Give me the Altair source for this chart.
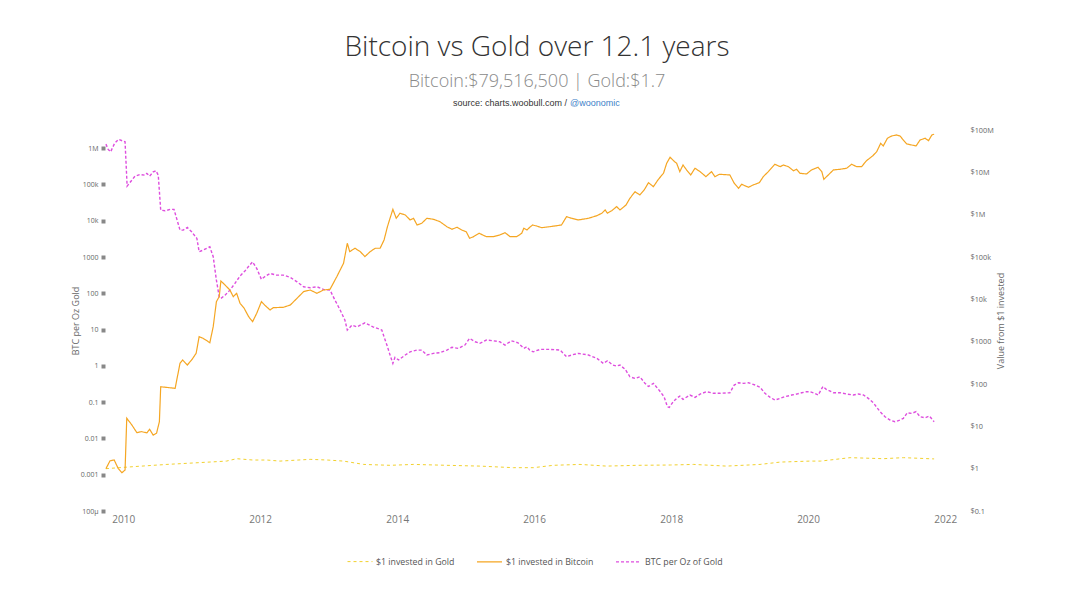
import altair as alt
import pandas as pd

# ---------------- data ----------------
gold_dates = ["2009-10-01", "2010-02-24", "2010-08-22", "2011-02-13", "2011-07-06", "2011-08-29",
              "2011-11-24", "2012-02-06", "2012-04-16", "2012-09-24", "2012-12-24", "2013-03-21",
              "2013-07-06", "2013-11-24", "2014-03-29", "2014-09-23", "2015-03-18", "2015-09-13",
              "2015-12-28", "2016-04-13", "2016-09-02", "2017-01-22", "2017-07-02", "2017-12-28",
              "2018-05-01", "2018-10-23", "2019-04-20", "2019-08-05", "2020-01-11", "2020-03-08",
              "2020-08-12", "2021-02-05", "2021-05-23", "2021-11-03"]
gold_values = [1.0, 1.115, 1.26, 1.39, 1.51, 1.72,
               1.6, 1.6, 1.51, 1.66, 1.6, 1.51,
               1.26, 1.2, 1.26, 1.2, 1.15, 1.055,
               1.055, 1.2, 1.26, 1.15, 1.2, 1.22,
               1.26, 1.15, 1.26, 1.43, 1.51, 1.51,
               1.82, 1.72, 1.82, 1.7]

btc_dates = ["2009-10-01", "2009-10-23", "2009-11-14", "2009-12-05", "2009-12-25", "2010-01-11",
             "2010-01-20", "2010-02-16", "2010-03-15", "2010-04-09", "2010-05-07", "2010-05-22",
             "2010-06-10", "2010-06-28", "2010-07-13", "2010-07-20", "2010-08-12", "2010-10-05",
             "2010-10-31", "2010-11-14", "2010-12-09", "2011-01-01", "2011-01-25", "2011-02-10",
             "2011-03-03", "2011-04-08", "2011-04-26", "2011-05-13", "2011-05-28", "2011-06-06",
             "2011-06-28", "2011-07-24", "2011-08-11", "2011-08-29", "2011-09-16", "2011-10-08",
             "2011-11-01", "2011-11-22", "2011-12-14", "2012-01-08", "2012-01-25", "2012-02-23",
             "2012-03-11", "2012-05-04", "2012-06-10", "2012-07-16", "2012-08-20", "2012-09-24",
             "2012-10-30", "2012-12-04", "2013-01-08", "2013-02-13", "2013-03-21", "2013-04-10",
             "2013-04-23", "2013-05-21", "2013-06-18", "2013-07-13", "2013-08-10", "2013-09-06",
             "2013-10-02", "2013-10-23", "2013-11-10", "2013-11-21", "2013-12-09", "2013-12-27",
             "2014-01-16", "2014-02-13", "2014-03-11", "2014-03-29", "2014-04-17", "2014-05-12",
             "2014-06-08", "2014-07-13", "2014-08-17", "2014-09-23", "2014-10-20", "2014-11-16",
             "2014-12-11", "2015-01-04", "2015-01-22", "2015-02-12", "2015-03-14", "2015-04-22",
             "2015-05-29", "2015-07-02", "2015-07-30", "2015-08-26", "2015-09-30", "2015-10-27",
             "2015-11-07", "2015-11-24", "2015-12-09", "2015-12-24", "2016-01-14", "2016-02-10",
             "2016-03-25", "2016-05-26", "2016-06-22", "2016-07-19", "2016-08-24", "2016-10-17",
             "2016-12-01", "2016-12-27", "2017-01-14", "2017-01-26", "2017-02-18", "2017-03-16",
             "2017-04-03", "2017-05-05", "2017-05-26", "2017-06-22", "2017-07-18", "2017-08-10",
             "2017-09-02", "2017-09-28", "2017-10-25", "2017-11-21", "2017-12-08", "2017-12-26",
             "2018-01-19", "2018-01-30", "2018-02-16", "2018-03-05", "2018-03-24", "2018-04-15",
             "2018-05-08", "2018-06-04", "2018-07-05", "2018-08-04", "2018-08-22", "2018-09-15",
             "2018-11-10", "2018-12-03", "2018-12-26", "2019-01-12", "2019-02-17", "2019-03-14",
             "2019-04-16", "2019-05-07", "2019-06-03", "2019-07-08", "2019-08-05", "2019-08-22",
             "2019-09-18", "2019-10-15", "2019-11-01", "2019-11-18", "2019-12-24", "2020-01-19",
             "2020-02-23", "2020-03-14", "2020-03-25", "2020-04-18", "2020-05-15", "2020-06-19",
             "2020-07-25", "2020-08-20", "2020-09-16", "2020-10-12", "2020-11-08", "2020-12-10",
             "2021-01-01", "2021-01-22", "2021-02-05", "2021-02-27", "2021-03-22", "2021-04-17",
             "2021-05-05", "2021-05-23", "2021-06-10", "2021-07-06", "2021-07-30", "2021-08-20",
             "2021-09-16", "2021-10-04", "2021-10-22", "2021-11-03"]
btc_values = [1.0, 1.54, 1.6, 1.02, 0.80, 0.93,
              15.5, 10.8, 7.1, 7.5, 7.0, 8.5,
              6.2, 6.9, 12.9, 86, 84, 79,
              308, 369, 281, 369, 531, 1312,
              1202, 946, 2260, 8810, 11560, 27200,
              21800, 16600, 11560, 13900, 8070, 6150,
              3890, 2965, 4680, 8810, 7350, 5600,
              6350, 6490, 7350, 10600, 15200, 16600,
              13900, 16600, 17300, 34300, 71100, 211000,
              134000, 161000, 134000, 102000, 134000, 161000,
              161000, 252000, 520000, 750000, 1340000, 822000,
              1080000, 984000, 750000, 822000, 570000, 626000,
              822000, 778000, 683000, 520000, 452000, 504000,
              434000, 396000, 277000, 302000, 363000, 302000,
              302000, 331000, 376000, 302000, 302000, 363000,
              477000, 434000, 504000, 570000, 541000, 493000,
              520000, 570000, 897000, 822000, 750000, 822000,
              947000, 1080000, 1290000, 1080000, 1240000, 1550000,
              1290000, 1690000, 2440000, 3490000, 2920000, 3830000,
              5700000, 4580000, 6860000, 9500000, 16400000, 22700000,
              17900000, 16400000, 10400000, 14900000, 11400000, 8670000,
              12500000, 10400000, 7900000, 10400000, 7900000, 9000000,
              8670000, 5520000, 4200000, 5220000, 4440000, 5030000,
              5700000, 7900000, 10400000, 15500000, 13600000, 14900000,
              13600000, 10900000, 11800000, 9500000, 9150000, 11400000,
              13200000, 10400000, 6860000, 8670000, 11400000, 11800000,
              12500000, 15500000, 13600000, 13600000, 18900000, 24400000,
              30800000, 48500000, 42000000, 63800000, 72300000, 76300000,
              72300000, 58000000, 46800000, 44300000, 42000000, 58000000,
              63800000, 56000000, 76300000, 79516500]

ratio_dates = ["2009-10-01", "2009-10-13", "2009-10-26", "2009-11-16", "2009-12-07", "2010-01-11",
               "2010-01-22", "2010-02-16", "2010-03-05", "2010-04-01", "2010-04-27", "2010-05-07",
               "2010-05-22", "2010-06-10", "2010-06-25", "2010-07-07", "2010-07-20", "2010-08-12",
               "2010-09-09", "2010-09-29", "2010-10-31", "2010-11-17", "2010-12-09", "2011-01-01",
               "2011-01-29", "2011-02-10", "2011-03-03", "2011-04-08", "2011-04-26", "2011-05-13",
               "2011-05-28", "2011-06-06", "2011-06-28", "2011-07-24", "2011-08-20", "2011-09-16",
               "2011-10-12", "2011-10-30", "2011-11-22", "2011-12-14", "2012-01-08", "2012-01-25",
               "2012-02-23", "2012-03-28", "2012-05-04", "2012-06-10", "2012-07-16", "2012-08-20",
               "2012-09-24", "2012-10-30", "2012-12-04", "2013-01-08", "2013-02-03", "2013-03-03",
               "2013-03-28", "2013-04-10", "2013-05-05", "2013-05-31", "2013-07-13", "2013-08-25",
               "2013-10-11", "2013-10-23", "2013-11-10", "2013-11-21", "2013-12-09", "2013-12-20",
               "2014-01-08", "2014-02-13", "2014-03-11", "2014-04-17", "2014-05-12", "2014-06-08",
               "2014-07-13", "2014-08-17", "2014-09-23", "2014-10-20", "2014-11-23", "2014-12-28",
               "2015-01-22", "2015-02-21", "2015-03-18", "2015-04-22", "2015-05-29", "2015-07-02",
               "2015-07-30", "2015-09-02", "2015-10-07", "2015-11-07", "2015-11-24", "2015-12-09",
               "2015-12-27", "2016-02-03", "2016-03-25", "2016-05-19", "2016-06-22", "2016-07-19",
               "2016-08-24", "2016-10-17", "2016-12-01", "2017-01-04", "2017-01-26", "2017-02-24",
               "2017-03-16", "2017-04-03", "2017-05-01", "2017-05-26", "2017-06-22", "2017-07-18",
               "2017-08-14", "2017-09-02", "2017-09-28", "2017-10-31", "2017-11-24", "2017-12-12",
               "2017-12-22", "2018-01-12", "2018-01-30", "2018-02-16", "2018-03-05", "2018-04-11",
               "2018-05-08", "2018-06-04", "2018-07-09", "2018-08-14", "2018-09-19", "2018-11-10",
               "2018-12-03", "2018-12-26", "2019-01-22", "2019-02-17", "2019-03-25", "2019-04-20",
               "2019-05-16", "2019-06-13", "2019-07-08", "2019-08-05", "2019-08-30", "2019-10-06",
               "2019-11-01", "2019-11-28", "2019-12-24", "2020-01-11", "2020-02-06", "2020-02-24",
               "2020-03-20", "2020-04-07", "2020-05-15", "2020-06-19", "2020-07-25", "2020-08-29",
               "2020-09-25", "2020-10-22", "2020-11-17", "2020-12-14", "2021-01-19", "2021-02-14",
               "2021-03-13", "2021-04-08", "2021-05-05", "2021-05-23", "2021-06-13", "2021-07-06",
               "2021-07-30", "2021-08-20", "2021-09-16", "2021-10-09", "2021-11-03"]
ratio_values = [1290000, 920000, 790000, 1350000, 1740000, 1490000,
                89800, 131000, 169000, 188000, 180000, 201000,
                169000, 222000, 237000, 180000, 19600, 18800,
                20500, 20500, 5500, 5500, 6500, 4940,
                3250, 1390, 1548, 1910, 1014, 231,
                80, 72, 89, 122, 188, 300,
                410, 537, 738, 485, 242, 285,
                353, 317, 317, 274, 207, 151,
                142, 151, 128, 122, 65, 34.5,
                18.3, 9.7, 13.3, 11.9, 15.4, 11.9,
                9.7, 6.3, 3.4, 2.21, 1.17, 1.71,
                1.45, 1.99, 2.44, 2.72, 2.72, 1.99,
                2.21, 2.3, 2.72, 3.24, 3.03, 3.74,
                5.73, 4.61, 4.17, 5.14, 4.91, 4.61,
                3.74, 4.91, 4.33, 3.03, 3.36, 2.72,
                2.44, 2.85, 2.85, 2.72, 1.78, 1.99,
                2.21, 1.99, 1.61, 1.17, 1.38, 1.05,
                0.99, 1.05, 0.80, 0.50, 0.45, 0.50,
                0.33, 0.27, 0.33, 0.206, 0.141, 0.0747,
                0.072, 0.103, 0.127, 0.147, 0.119, 0.157,
                0.135, 0.167, 0.194, 0.175, 0.175, 0.182,
                0.296, 0.342, 0.33, 0.342, 0.296, 0.256,
                0.175, 0.135, 0.114, 0.127, 0.141, 0.157,
                0.167, 0.182, 0.194, 0.194, 0.175, 0.157,
                0.27, 0.225, 0.182, 0.182, 0.167, 0.157,
                0.167, 0.157, 0.127, 0.096, 0.0545, 0.0396,
                0.0322, 0.0288, 0.0322, 0.0358, 0.051, 0.049,
                0.0545, 0.0396, 0.0372, 0.0414, 0.0288]

series_names = ["$1 invested in Gold", "$1 invested in Bitcoin", "BTC per Oz of Gold"]
series_colors = ["#f2d12e", "#f5a623", "#de4ede"]
series_dashes = [[3, 3], [1, 0], [3, 2]]
series_widths = [1.0, 1.4, 0.9]

year_ticks = list(range(2010, 2024, 2))
left_ticks = [1e-4, 1e-3, 1e-2, 0.1, 1, 10, 100, 1000, 1e4, 1e5, 1e6]
left_labels = ["100µ", "0.001", "0.01", "0.1", "1", "10", "100", "1000", "10k", "100k", "1M"]
right_ticks = [0.1, 1, 10, 100, 1000, 1e4, 1e5, 1e6, 1e7, 1e8]
right_labels = ["$0.1", "$1", "$10", "$100", "$1000", "$10k", "$100k", "$1M", "$10M", "$100M"]

title_text = "Bitcoin vs Gold over 12.1 years"
subtitle_text = "Bitcoin:$79,516,500 | Gold:$1.7"
source_text = "source: charts.woobull.com /"
source_handle = "@woonomic"

# ---------------- tables ----------------
df_inv = pd.concat([
    pd.DataFrame({"date": pd.to_datetime(gold_dates), "value": gold_values, "series": series_names[0]}),
    pd.DataFrame({"date": pd.to_datetime(btc_dates), "value": btc_values, "series": series_names[1]}),
])
df_ratio = pd.DataFrame({"date": pd.to_datetime(ratio_dates), "value": ratio_values, "series": series_names[2]})


def label_expr(ticks, labels):
    expr = f"'{labels[-1]}'"
    for t, lab in reversed(list(zip(ticks[:-1], labels[:-1]))):
        expr = f"datum.value < {t * 3} ? '{lab}' : " + expr
    return expr


W, H = 843, 381
FONT = "Open Sans"
AXIS_GRAY = "#666666"

legend = alt.Legend(
    title=None, orient="none", direction="horizontal", legendX=242, legendY=418,
    symbolType="stroke", symbolSize=625, symbolStrokeWidth=1.4, labelFont=FONT,
    labelFontSize=8.8, labelColor="#555555", columnPadding=19, labelOffset=3,
)

x_enc = alt.X(
    "date:T", title=None,
    scale=alt.Scale(domain=[alt.DateTime(year=2009, month=9, date=26),
                            alt.DateTime(year=2022, month=1, date=16)]),
    axis=alt.Axis(values=[alt.DateTime(year=y, month=1, date=1) for y in year_ticks],
                  format="%Y", grid=False, domain=False, ticks=False, labelFont=FONT,
                  labelFontSize=10, labelColor="#777777", labelPadding=3, labelFlush=False),
)
color_enc = alt.Color("series:N", scale=alt.Scale(domain=series_names, range=series_colors), legend=legend)
dash_enc = alt.StrokeDash("series:N", scale=alt.Scale(domain=series_names, range=series_dashes), legend=legend)
width_enc = alt.StrokeWidth("series:N", scale=alt.Scale(domain=series_names, range=series_widths), legend=None)

right_lines = alt.Chart(df_inv).mark_line().encode(
    x=x_enc,
    y=alt.Y("value:Q",
            scale=alt.Scale(type="log", domain=[0.1, 1e8], nice=False),
            axis=alt.Axis(orient="right", values=right_ticks, labelExpr=label_expr(right_ticks, right_labels),
                          grid=False, domain=False, ticks=False, labelFont=FONT, labelFontSize=7.3,
                          labelColor=AXIS_GRAY, labelPadding=22, labelAlign="left",
                          title="Value from $1 invested", titleFont=FONT, titleFontSize=9,
                          titleFontWeight="normal", titleColor=AXIS_GRAY, titleAngle=270,
                          titleX=52, titleY=H / 2, titleBaseline="middle", titleAlign="center")),
    color=color_enc, strokeDash=dash_enc, strokeWidth=width_enc,
)

left_lines = alt.Chart(df_ratio).mark_line().encode(
    x=x_enc,
    y=alt.Y("value:Q",
            scale=alt.Scale(type="log", domain=[1e-4, 10 ** 6.5], nice=False),
            axis=alt.Axis(orient="left", values=left_ticks, labelExpr=label_expr(left_ticks, left_labels),
                          grid=False, domain=False, ticks=True, tickSize=4, tickWidth=4,
                          tickColor="#888888", labelFont=FONT, labelFontSize=7,
                          labelColor=AXIS_GRAY, labelPadding=3,
                          title="BTC per Oz Gold", titleFont=FONT, titleFontSize=9,
                          titleFontWeight="normal", titleColor=AXIS_GRAY, titleAngle=270,
                          titleX=-30, titleY=H / 2, titleBaseline="middle", titleAlign="center")),
    color=color_enc, strokeDash=dash_enc, strokeWidth=width_enc,
)


def text_layer(txt, gx, gy, size, color, font, align="center", weight="normal"):
    return alt.Chart(pd.DataFrame({"t": [txt]})).mark_text(
        align=align, baseline="alphabetic", fontSize=size, color=color, font=font, fontWeight=weight
    ).encode(text="t:N", x=alt.value(gx), y=alt.value(gy))


title_l = text_layer(title_text, 432, -74, 28, "#333333", FONT, weight=300)
subtitle_l = text_layer(subtitle_text, 432, -43.5, 18, "#8a8a8a", FONT, weight=300)
source_l = text_layer(source_text, 462, -24, 9, "#333333", "Liberation Sans", align="right")
handle_l = text_layer(source_handle, 465, -24, 9, "#3d7fc8", "Liberation Sans", align="left")

chart = alt.layer(left_lines, right_lines, title_l, subtitle_l, source_l, handle_l).resolve_scale(
    y="independent"
).properties(
    width=W, height=H,
    autosize=alt.AutoSizeParams(type="none"),
    padding={"left": 97, "top": 122, "right": 100, "bottom": 70},
).configure_view(stroke=None)

chart.save("out.html", embed_options={"renderer": "svg", "actions": False})
